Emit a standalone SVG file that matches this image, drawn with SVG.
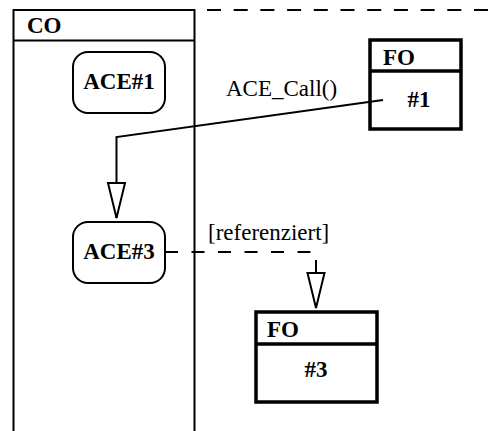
<svg xmlns="http://www.w3.org/2000/svg" width="488" height="431" viewBox="0 0 488 431">
<style>
.lane{fill:none;stroke:#000;stroke-width:2}
.dash{fill:none;stroke:#000;stroke-width:2;stroke-dasharray:13 13.5}
.ace{fill:#fff;stroke:#000;stroke-width:2}
.fo{fill:#fff;stroke:#000;stroke-width:3.5}
.conn{fill:none;stroke:#000;stroke-width:2}
.b{font-family:"Liberation Serif",serif;font-weight:bold;font-size:23px;fill:#000}
.n{font-family:"Liberation Serif",serif;font-size:23px;fill:#000}
</style>
<defs>
<marker id="tri" markerUnits="userSpaceOnUse" viewBox="-38 -11 40 22" markerWidth="40" markerHeight="22" refX="0" refY="0" orient="auto">
<path d="M0,0 L-35,-8.5 L-35,8.5 Z" fill="#fff" stroke="#000" stroke-width="2" stroke-dasharray="none"/>
</marker>
</defs>
<rect width="488" height="431" fill="#fff"/>
<g id="CO">
<path class="lane" d="M13.5,431 V10 H194.5 V431 M13.5,40.5 H194.5"/>
<text class="b" x="27" y="33">CO</text>
</g>
<g id="boundary">
<path class="dash" d="M207,10 H488" style="stroke-dasharray:14 12.7"/>
</g>
<g id="connectors">
<path class="conn" d="M383,100 L116.5,137 V218" marker-end="url(#tri)"/>
<text class="n" x="226" y="96">ACE_Call()</text>
<path class="dash" d="M165,252 H316 V308" marker-end="url(#tri)"/>
<text class="n" x="208" y="240">[referenziert]</text>
</g>
<g id="ACE1">
<rect class="ace" x="73" y="52" width="92" height="61" rx="15"/>
<text class="b" x="119" y="89" text-anchor="middle">ACE#1</text>
</g>
<g id="ACE3">
<rect class="ace" x="73" y="222" width="92" height="61" rx="15"/>
<text class="b" x="119" y="259" text-anchor="middle">ACE#3</text>
</g>
<g id="FO1">
<rect class="fo" x="370" y="40" width="91" height="89" fill="none" style="fill:none"/>
<path class="fo" d="M370,71 H461"/>
<text class="b" x="383" y="65">FO</text>
<text class="b" x="419" y="107" text-anchor="middle">#1</text>
</g>
<g id="FO3">
<rect class="fo" x="256" y="312" width="121" height="90"/>
<path class="fo" d="M256,344 H377"/>
<text class="b" x="267" y="337">FO</text>
<text class="b" x="316" y="377" text-anchor="middle">#3</text>
</g>
</svg>
